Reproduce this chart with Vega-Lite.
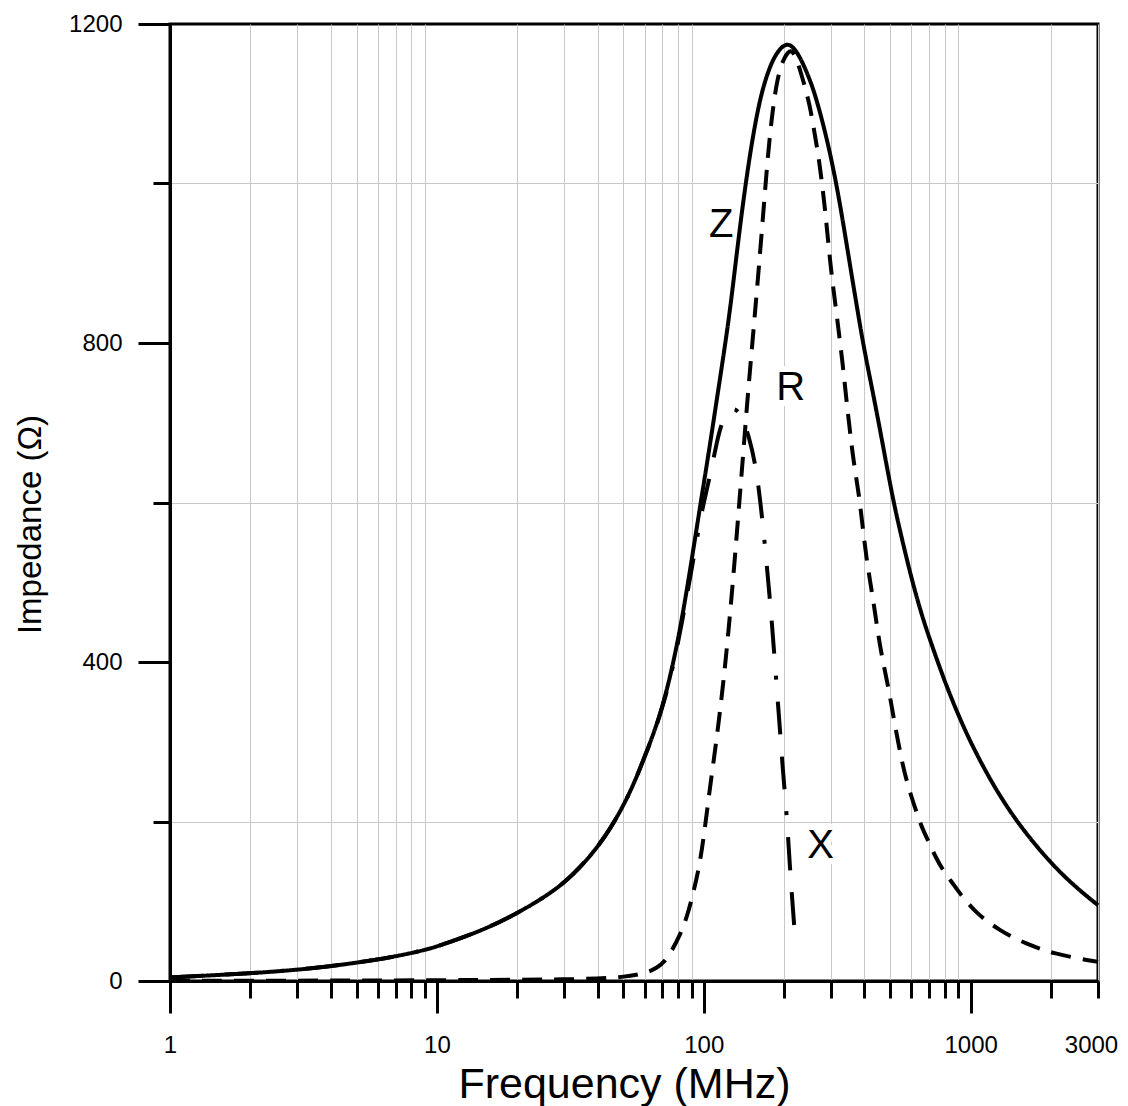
{
  "$schema": "https://vega.github.io/schema/vega-lite/v6.json",
  "autosize": "none",
  "width": 928,
  "height": 957,
  "padding": {"left": 170, "top": 24, "right": 30, "bottom": 125},
  "background": "white",
  "config": {
    "view": {"stroke": "black", "strokeWidth": 3},
    "font": "Liberation Sans",
    "axis": {
      "tickWidth": 3, "tickColor": "black",
      "domainColor": "black", "domainWidth": 3,
      "grid": true, "gridColor": "#c8c8c8", "gridWidth": 1,
      "labelFont": "Liberation Sans", "labelFontSize": 24, "labelColor": "black",
      "labelOverlap": false, "labelFlush": false,
      "titleFont": "Liberation Sans", "titleFontWeight": "normal", "titleColor": "black"
    }
  },
  "datasets": {
    "curves": [
      {"s": "Z", "f": 1, "v": 4.5}, {"s": "Z", "f": 2, "v": 9.5}, {"s": "Z", "f": 3, "v": 14}, {"s": "Z", "f": 4, "v": 18.5},
      {"s": "Z", "f": 5, "v": 23}, {"s": "Z", "f": 6, "v": 27}, {"s": "Z", "f": 7, "v": 31}, {"s": "Z", "f": 8, "v": 35},
      {"s": "Z", "f": 9, "v": 39}, {"s": "Z", "f": 10, "v": 43}, {"s": "Z", "f": 15, "v": 64}, {"s": "Z", "f": 20, "v": 85},
      {"s": "Z", "f": 25, "v": 104}, {"s": "Z", "f": 30, "v": 123}, {"s": "Z", "f": 35, "v": 145}, {"s": "Z", "f": 40, "v": 168},
      {"s": "Z", "f": 45, "v": 193}, {"s": "Z", "f": 50, "v": 220}, {"s": "Z", "f": 55, "v": 249}, {"s": "Z", "f": 60, "v": 281},
      {"s": "Z", "f": 65, "v": 311}, {"s": "Z", "f": 70, "v": 344}, {"s": "Z", "f": 75, "v": 383}, {"s": "Z", "f": 80, "v": 427},
      {"s": "Z", "f": 85, "v": 476}, {"s": "Z", "f": 90, "v": 527}, {"s": "Z", "f": 97.4, "v": 600}, {"s": "Z", "f": 105, "v": 668},
      {"s": "Z", "f": 112, "v": 730}, {"s": "Z", "f": 119.4, "v": 791}, {"s": "Z", "f": 125, "v": 838}, {"s": "Z", "f": 130, "v": 885},
      {"s": "Z", "f": 136, "v": 940}, {"s": "Z", "f": 143.5, "v": 1000}, {"s": "Z", "f": 152, "v": 1055}, {"s": "Z", "f": 160, "v": 1095},
      {"s": "Z", "f": 167, "v": 1121}, {"s": "Z", "f": 177, "v": 1147}, {"s": "Z", "f": 187, "v": 1163}, {"s": "Z", "f": 197, "v": 1172},
      {"s": "Z", "f": 206, "v": 1175}, {"s": "Z", "f": 215, "v": 1172}, {"s": "Z", "f": 225, "v": 1163}, {"s": "Z", "f": 235, "v": 1151},
      {"s": "Z", "f": 250, "v": 1130}, {"s": "Z", "f": 265, "v": 1105}, {"s": "Z", "f": 290, "v": 1055}, {"s": "Z", "f": 314, "v": 1000},
      {"s": "Z", "f": 335, "v": 945}, {"s": "Z", "f": 355, "v": 893}, {"s": "Z", "f": 375, "v": 845}, {"s": "Z", "f": 395, "v": 800},
      {"s": "Z", "f": 420, "v": 755}, {"s": "Z", "f": 443, "v": 716}, {"s": "Z", "f": 475, "v": 662}, {"s": "Z", "f": 510, "v": 606},
      {"s": "Z", "f": 550, "v": 557}, {"s": "Z", "f": 600, "v": 505}, {"s": "Z", "f": 650, "v": 463}, {"s": "Z", "f": 700, "v": 430},
      {"s": "Z", "f": 800, "v": 375}, {"s": "Z", "f": 900, "v": 333}, {"s": "Z", "f": 1000, "v": 299}, {"s": "Z", "f": 1200, "v": 248},
      {"s": "Z", "f": 1500, "v": 197.5}, {"s": "Z", "f": 2000, "v": 147}, {"s": "Z", "f": 2500, "v": 116.4}, {"s": "Z", "f": 3000, "v": 95},

      {"s": "R", "f": 1, "v": 0.3}, {"s": "R", "f": 5, "v": 0.5}, {"s": "R", "f": 10, "v": 1}, {"s": "R", "f": 20, "v": 1.5},
      {"s": "R", "f": 30, "v": 2}, {"s": "R", "f": 40, "v": 3}, {"s": "R", "f": 50, "v": 5}, {"s": "R", "f": 57, "v": 8},
      {"s": "R", "f": 62.8, "v": 12}, {"s": "R", "f": 67, "v": 17}, {"s": "R", "f": 70.7, "v": 23}, {"s": "R", "f": 75.7, "v": 37},
      {"s": "R", "f": 81.3, "v": 57}, {"s": "R", "f": 86, "v": 78}, {"s": "R", "f": 89.9, "v": 101}, {"s": "R", "f": 96.6, "v": 145},
      {"s": "R", "f": 101, "v": 192}, {"s": "R", "f": 105.5, "v": 243}, {"s": "R", "f": 111, "v": 296}, {"s": "R", "f": 116, "v": 348},
      {"s": "R", "f": 121, "v": 404}, {"s": "R", "f": 126, "v": 467}, {"s": "R", "f": 131, "v": 533}, {"s": "R", "f": 136, "v": 602},
      {"s": "R", "f": 141, "v": 667}, {"s": "R", "f": 146, "v": 732}, {"s": "R", "f": 151, "v": 788}, {"s": "R", "f": 156, "v": 843},
      {"s": "R", "f": 161, "v": 896}, {"s": "R", "f": 167, "v": 962}, {"s": "R", "f": 174, "v": 1037}, {"s": "R", "f": 181, "v": 1092},
      {"s": "R", "f": 189, "v": 1133}, {"s": "R", "f": 198, "v": 1155}, {"s": "R", "f": 207, "v": 1165}, {"s": "R", "f": 214, "v": 1167},
      {"s": "R", "f": 222, "v": 1158}, {"s": "R", "f": 232, "v": 1137}, {"s": "R", "f": 240, "v": 1120}, {"s": "R", "f": 249.5, "v": 1098},
      {"s": "R", "f": 258, "v": 1070}, {"s": "R", "f": 268, "v": 1038}, {"s": "R", "f": 276, "v": 1006}, {"s": "R", "f": 284, "v": 971},
      {"s": "R", "f": 292, "v": 930}, {"s": "R", "f": 300, "v": 890}, {"s": "R", "f": 312, "v": 846}, {"s": "R", "f": 323, "v": 805},
      {"s": "R", "f": 333, "v": 768}, {"s": "R", "f": 342, "v": 730}, {"s": "R", "f": 352, "v": 693}, {"s": "R", "f": 362, "v": 658},
      {"s": "R", "f": 373, "v": 630}, {"s": "R", "f": 384, "v": 602}, {"s": "R", "f": 395, "v": 566}, {"s": "R", "f": 407, "v": 530},
      {"s": "R", "f": 422, "v": 497}, {"s": "R", "f": 437, "v": 465}, {"s": "R", "f": 456, "v": 422}, {"s": "R", "f": 475, "v": 392},
      {"s": "R", "f": 490, "v": 370}, {"s": "R", "f": 505, "v": 346}, {"s": "R", "f": 519, "v": 323}, {"s": "R", "f": 537, "v": 297},
      {"s": "R", "f": 557, "v": 270}, {"s": "R", "f": 578, "v": 249}, {"s": "R", "f": 600, "v": 231}, {"s": "R", "f": 622, "v": 215},
      {"s": "R", "f": 644, "v": 200}, {"s": "R", "f": 670, "v": 186}, {"s": "R", "f": 702, "v": 172}, {"s": "R", "f": 740, "v": 155},
      {"s": "R", "f": 787, "v": 139}, {"s": "R", "f": 850, "v": 124}, {"s": "R", "f": 910, "v": 110}, {"s": "R", "f": 980, "v": 97},
      {"s": "R", "f": 1050, "v": 86}, {"s": "R", "f": 1150, "v": 75}, {"s": "R", "f": 1284, "v": 64}, {"s": "R", "f": 1450, "v": 54},
      {"s": "R", "f": 1617, "v": 47}, {"s": "R", "f": 1800, "v": 41}, {"s": "R", "f": 2033, "v": 35}, {"s": "R", "f": 2500, "v": 28.5},
      {"s": "R", "f": 3000, "v": 24},

      {"s": "X", "f": 1, "v": 4.5}, {"s": "X", "f": 2, "v": 9.5}, {"s": "X", "f": 3, "v": 14}, {"s": "X", "f": 4, "v": 18.5},
      {"s": "X", "f": 5, "v": 23}, {"s": "X", "f": 6, "v": 27}, {"s": "X", "f": 7, "v": 31}, {"s": "X", "f": 8, "v": 35},
      {"s": "X", "f": 9, "v": 39}, {"s": "X", "f": 10, "v": 43}, {"s": "X", "f": 15, "v": 64}, {"s": "X", "f": 20, "v": 85},
      {"s": "X", "f": 25, "v": 104}, {"s": "X", "f": 30, "v": 123}, {"s": "X", "f": 35, "v": 145}, {"s": "X", "f": 40, "v": 168},
      {"s": "X", "f": 45, "v": 193}, {"s": "X", "f": 50, "v": 220}, {"s": "X", "f": 55, "v": 249}, {"s": "X", "f": 60, "v": 281},
      {"s": "X", "f": 65, "v": 310}, {"s": "X", "f": 70, "v": 343}, {"s": "X", "f": 75, "v": 380}, {"s": "X", "f": 80, "v": 423},
      {"s": "X", "f": 85, "v": 470}, {"s": "X", "f": 90, "v": 515}, {"s": "X", "f": 97.4, "v": 583}, {"s": "X", "f": 102, "v": 612},
      {"s": "X", "f": 107, "v": 643}, {"s": "X", "f": 111.6, "v": 674}, {"s": "X", "f": 116, "v": 697}, {"s": "X", "f": 121.7, "v": 712},
      {"s": "X", "f": 129, "v": 719}, {"s": "X", "f": 137, "v": 713}, {"s": "X", "f": 148.6, "v": 681}, {"s": "X", "f": 157.5, "v": 641},
      {"s": "X", "f": 163, "v": 600}, {"s": "X", "f": 168, "v": 560}, {"s": "X", "f": 174, "v": 505}, {"s": "X", "f": 180, "v": 450},
      {"s": "X", "f": 186, "v": 385}, {"s": "X", "f": 192, "v": 325}, {"s": "X", "f": 198, "v": 262}, {"s": "X", "f": 204, "v": 215},
      {"s": "X", "f": 210, "v": 145}, {"s": "X", "f": 216, "v": 88}, {"s": "X", "f": 221, "v": 45}
    ],
    "labels": [
      {"t": "Z", "f": 116.3, "v": 948},
      {"t": "R", "f": 211.8, "v": 743},
      {"t": "X", "f": 274, "v": 169}
    ]
  },
  "resolve": {"axis": {"x": "independent", "y": "independent"}},
  "layer": [
    {
      "data": {"name": "labels"},
      "mark": {"type": "text", "fontSize": 40, "font": "Liberation Sans", "align": "center", "baseline": "middle", "fill": "white", "stroke": "white", "strokeWidth": 12},
      "encoding": {
        "text": {"field": "t"},
        "x": {
          "field": "f", "type": "quantitative",
          "scale": {"type": "log", "domain": [1, 3000], "nice": false},
          "axis": {
            "orient": "bottom",
            "values": [2,3,4,5,6,7,8,9,20,30,40,50,60,70,80,90,200,300,400,500,600,700,800,900,2000,3000],
            "format": "d",
            "labelExpr": "datum.value == 3000 ? datum.label : ''",
            "tickSize": 17, "labelPadding": 35, "labelOffset": -7,
            "title": null
          }
        },
        "y": {
          "field": "v", "type": "quantitative",
          "scale": {"domain": [0, 1200], "nice": false, "zero": false},
          "axis": {
            "orient": "left",
            "values": [200, 600, 1000],
            "labels": false,
            "tickSize": 17,
            "title": null
          }
        }
      }
    },
    {
      "data": {"name": "curves"},
      "mark": {"type": "line", "color": "black", "strokeWidth": 4, "interpolate": "basis"},
      "encoding": {
        "x": {
          "field": "f", "type": "quantitative",
          "scale": {"type": "log", "domain": [1, 3000], "nice": false},
          "axis": {
            "orient": "bottom",
            "values": [1, 10, 100, 1000],
            "format": "d",
            "tickSize": 32, "labelPadding": 20,
            "title": "Frequency (MHz)", "titleFontSize": 43,
            "titleX": 454, "titleY": 116, "titleBaseline": "alphabetic"
          }
        },
        "y": {
          "field": "v", "type": "quantitative",
          "scale": {"domain": [0, 1200], "nice": false, "zero": false},
          "axis": {
            "orient": "left",
            "values": [0, 400, 800, 1200],
            "format": "d",
            "tickSize": 32, "labelPadding": 16,
            "title": "Impedance (Ω)", "titleFontSize": 33,
            "titleX": -140, "titleY": 500, "titleBaseline": "middle"
          }
        },
        "strokeDash": {
          "field": "s", "type": "nominal",
          "scale": {"domain": ["Z", "R", "X"], "range": [[1, 0], [20, 12], [33, 22, 33, 22, 4, 22]]},
          "legend": null
        }
      }
    },
    {
      "data": {"name": "labels"},
      "mark": {"type": "text", "fontSize": 40, "font": "Liberation Sans", "align": "center", "baseline": "middle", "color": "black"},
      "encoding": {
        "text": {"field": "t"},
        "x": {"field": "f", "type": "quantitative", "scale": {"type": "log", "domain": [1, 3000], "nice": false}, "axis": null},
        "y": {"field": "v", "type": "quantitative", "scale": {"domain": [0, 1200], "nice": false, "zero": false}, "axis": null}
      }
    }
  ]
}
